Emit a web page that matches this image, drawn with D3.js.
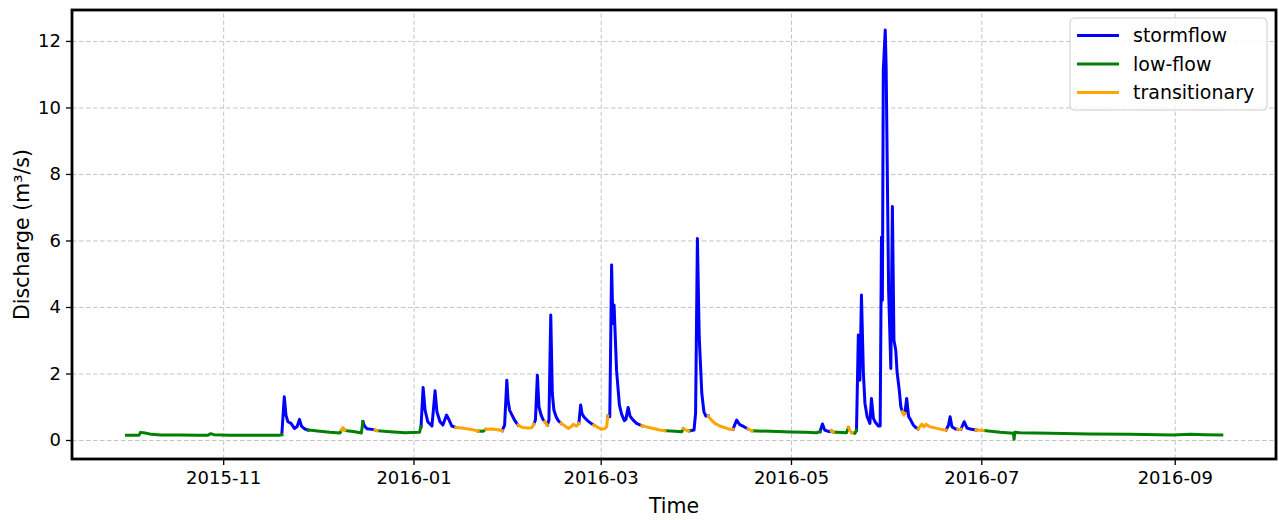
<!DOCTYPE html>
<html><head><meta charset="utf-8">
<script src="https://cdn.jsdelivr.net/npm/d3@7"></script>
<style>body{margin:0;background:#fff}svg{display:block}text{font-family:"DejaVu Sans",sans-serif;fill:#000}</style>
</head><body><svg id="chart" width="1279" height="520"></svg>
<script>
// ---- data ----
const times = [
"2015-10-01T00","2015-10-05T00","2015-10-05T12","2015-10-07T00","2015-10-09T00","2015-10-12T00","2015-10-18T00","2015-10-24T00","2015-10-27T00","2015-10-28T00",
"2015-10-29T00","2015-11-03T00","2015-11-10T00","2015-11-15T00","2015-11-19T00","2015-11-19T19","2015-11-20T14","2015-11-21T03","2015-11-21T18","2015-11-22T18",
"2015-11-23T20","2015-11-24T16","2015-11-25T11","2015-11-26T02","2015-11-27T05","2015-11-28T05","2015-12-02T00","2015-12-05T05","2015-12-08T10","2015-12-08T22",
"2015-12-09T10","2015-12-10T00","2015-12-10T17","2015-12-13T05","2015-12-15T07","2015-12-15T19","2015-12-16T07","2015-12-17T02","2015-12-18T17","2015-12-19T17",
"2015-12-20T07","2015-12-24T12","2015-12-29T07","2016-01-02T22","2016-01-03T10","2016-01-04T02","2016-01-04T17","2016-01-05T14","2016-01-06T22","2016-01-07T22",
"2016-01-08T12","2016-01-09T12","2016-01-10T10","2016-01-11T14","2016-01-12T10","2016-01-13T07","2016-01-14T14","2016-01-16T12","2016-01-18T12","2016-01-20T10",
"2016-01-21T17","2016-01-23T07","2016-01-24T05","2016-01-26T05","2016-01-28T02","2016-01-29T10","2016-01-30T05","2016-01-30T22","2016-01-31T07","2016-01-31T19",
"2016-02-01T14","2016-02-02T12","2016-02-03T12","2016-02-04T19","2016-02-06T17","2016-02-07T22","2016-02-08T14","2016-02-09T02","2016-02-09T17","2016-02-10T05",
"2016-02-10T22","2016-02-11T12","2016-02-12T02","2016-02-12T22","2016-02-13T10","2016-02-14T00","2016-02-14T12","2016-02-15T00","2016-02-15T17","2016-02-16T10",
"2016-02-17T07","2016-02-18T14","2016-02-19T14","2016-02-20T12","2016-02-21T05","2016-02-22T07","2016-02-23T00","2016-02-23T14","2016-02-24T00","2016-02-24T14",
"2016-02-25T14","2016-02-26T14","2016-02-27T19","2016-02-29T02","2016-03-01T07","2016-03-02T10","2016-03-02T22","2016-03-03T07","2016-03-03T22","2016-03-04T12",
"2016-03-04T22","2016-03-05T07","2016-03-06T02","2016-03-07T00","2016-03-07T17","2016-03-08T14","2016-03-09T02","2016-03-09T19","2016-03-10T10","2016-03-11T10",
"2016-03-12T12","2016-03-14T05","2016-03-16T19","2016-03-20T00","2016-03-21T14","2016-03-24T19","2016-03-27T00","2016-03-27T12","2016-03-28T07","2016-03-29T02",
"2016-03-29T14","2016-03-30T22","2016-03-31T10","2016-04-01T00","2016-04-01T14","2016-04-02T10","2016-04-03T02","2016-04-03T17","2016-04-04T12","2016-04-05T07",
"2016-04-06T14","2016-04-08T05","2016-04-11T10","2016-04-12T10","2016-04-13T14","2016-04-14T14","2016-04-15T22","2016-04-17T05","2016-04-18T12","2016-04-24T07",
"2016-05-01T00","2016-05-05T12","2016-05-09T05","2016-05-10T07","2016-05-11T02","2016-05-11T19","2016-05-13T05","2016-05-13T22","2016-05-14T12","2016-05-18T19",
"2016-05-19T10","2016-05-19T22","2016-05-20T12","2016-05-21T12","2016-05-22T00","2016-05-22T14","2016-05-23T02","2016-05-23T14","2016-05-24T05","2016-05-24T17",
"2016-05-25T10","2016-05-26T07","2016-05-26T19","2016-05-27T10","2016-05-27T22","2016-05-29T00","2016-05-29T14","2016-05-30T00","2016-05-30T07","2016-05-30T14",
"2016-05-31T05","2016-05-31T12","2016-06-01T07","2016-06-02T00","2016-06-02T12","2016-06-03T00","2016-06-03T14","2016-06-04T00","2016-06-04T17","2016-06-05T05",
"2016-06-05T17","2016-06-06T05","2016-06-06T12","2016-06-07T02","2016-06-07T17","2016-06-08T02","2016-06-09T05","2016-06-09T17","2016-06-10T17","2016-06-11T22",
"2016-06-12T14","2016-06-13T07","2016-06-14T12","2016-06-16T17","2016-06-18T17","2016-06-19T17","2016-06-20T12","2016-06-21T00","2016-06-21T14","2016-06-22T14",
"2016-06-23T12","2016-06-24T12","2016-06-25T12","2016-06-26T10","2016-06-27T10","2016-06-29T07","2016-07-01T14","2016-07-07T00","2016-07-11T07","2016-07-11T12",
"2016-07-11T17","2016-07-13T10","2016-07-23T00","2016-08-04T19","2016-08-17T14","2016-08-31T10","2016-09-05T22","2016-09-10T17","2016-09-16T02"
];
const discharge = [
0.14,0.14,0.23,0.21,0.17,0.15,0.15,0.14,0.14,0.19,
0.16,0.14,0.14,0.14,0.14,0.16,1.30,0.75,0.55,0.50,
0.35,0.40,0.62,0.42,0.33,0.30,0.26,0.23,0.21,0.30,
0.37,0.30,0.28,0.25,0.21,0.55,0.42,0.34,0.32,0.30,
0.28,0.25,0.22,0.23,0.40,1.58,0.90,0.55,0.42,1.48,
0.85,0.55,0.45,0.75,0.60,0.42,0.38,0.36,0.33,0.30,
0.27,0.26,0.32,0.33,0.31,0.28,0.45,1.80,1.20,0.90,
0.75,0.58,0.45,0.38,0.36,0.37,0.48,0.60,1.95,1.00,
0.75,0.62,0.55,0.45,0.60,3.76,1.40,0.90,0.70,0.58,
0.50,0.42,0.35,0.40,0.47,0.42,0.50,1.05,0.80,0.70,
0.60,0.52,0.45,0.38,0.32,0.35,0.40,0.72,0.70,5.26,
3.50,4.06,2.10,1.05,0.78,0.58,0.62,0.98,0.72,0.60,
0.50,0.43,0.37,0.30,0.28,0.26,0.25,0.34,0.30,0.28,
0.28,0.30,0.80,6.06,3.10,1.40,0.85,0.72,0.72,0.62,
0.50,0.42,0.32,0.32,0.60,0.46,0.40,0.33,0.28,0.26,
0.24,0.23,0.22,0.25,0.48,0.30,0.25,0.28,0.24,0.22,
0.38,0.28,0.22,0.20,0.30,3.16,1.80,4.36,2.00,1.10,
0.70,0.50,1.25,0.65,0.55,0.42,0.42,6.10,4.20,11.10,
12.33,11.20,4.50,2.15,7.02,3.00,2.70,2.05,1.50,1.00,
0.85,0.75,0.80,1.25,0.70,0.65,0.45,0.40,0.33,0.48,
0.40,0.47,0.40,0.35,0.31,0.30,0.45,0.70,0.40,0.34,
0.32,0.33,0.55,0.36,0.33,0.30,0.29,0.23,0.20,0.02,
0.23,0.22,0.20,0.18,0.17,0.15,0.17,0.16,0.15
];
const regime = (
"LLLLLLLLLL"+"LLLLLSSSSS"+"SSSSSLLLLT"+"TLLLLSSSST"+"LLLLSSSSSS"+
"SSSSSSTTTT"+"LLTTTSSSSS"+"SSTTTTSSSS"+"SSTSSSSSSS"+"TTTTTTSSSS"+
"SSTTTTTSSS"+"SSSSSSSSSS"+"STTTLLLTTL"+"SSSSSSSSTT"+"TTTSSSSTLL"+
"LLLSSSSTLL"+"TTLLSSSSSS"+"SSSSSSSSSS"+"SSSSSSSSSS"+"TTSSSSSSTT"+
"TTTTTSSSSS"+"TSSSSTLLLL"+"LLLLLLLLL").split("");
const regimeCodes = ["S","L","T"];
const regimeNames = ["stormflow","low-flow","transitionary"];
const regimeColors = ["#0000ff","#008000","#ffa500"];
const yTicks = [0,2,4,6,8,10,12];
const xTicks = ["2015-11-01","2016-01-01","2016-03-01","2016-05-01","2016-07-01","2016-09-01"];
const xDomain = ["2015-09-13T13","2016-10-03T11"];
const yDomain = [-0.571, 12.93];

// ---- drawing ----
const parseT = d3.utcParse("%Y-%m-%dT%H");
const parseD = d3.utcParse("%Y-%m-%d");
const L = 72, R = 1276, T = 10, B = 459;
const svg = d3.select("#chart");
const x = d3.scaleUtc().domain(xDomain.map(parseT)).range([L, R]);
const y = d3.scaleLinear().domain(yDomain).range([B, T]);
const pts = times.map((t, i) => ({t: parseT(t), v: discharge[i], r: regime[i]}));

// grid
const gridStyle = g => g.selectAll("line").attr("stroke", "#c4c4c4").attr("stroke-width", 1).attr("stroke-dasharray", "4.5,2.5");
svg.append("g").attr("transform", `translate(0,${B})`)
  .call(d3.axisBottom(x).tickValues(xTicks.map(parseD)).tickSize(-(B - T)).tickFormat(""))
  .call(g => g.select(".domain").remove()).call(gridStyle);
svg.append("g").attr("transform", `translate(${L},0)`)
  .call(d3.axisLeft(y).tickValues(yTicks).tickSize(-(R - L)).tickFormat(""))
  .call(g => g.select(".domain").remove()).call(gridStyle);

// series runs
const line = d3.line().x(d => x(d.t)).y(d => y(d.v));
const runs = [];
let start = 0;
for (let i = 1; i <= pts.length; i++) {
  if (i === pts.length || pts[i].r !== pts[start].r) {
    runs.push({r: pts[start].r, p: pts.slice(start, Math.min(i + 1, pts.length))});
    start = i;
  }
}
const plot = svg.append("g");
regimeCodes.forEach((code, k) => {
  runs.filter(rn => rn.r === code).forEach(rn => {
    plot.append("path").attr("d", line(rn.p)).attr("fill", "none")
      .attr("stroke", regimeColors[k]).attr("stroke-width", 3)
      .attr("stroke-linejoin", "round").attr("stroke-linecap", "square");
  });
});

// axes ticks + labels
const xa = svg.append("g").attr("transform", `translate(0,${B})`)
  .call(d3.axisBottom(x).tickValues(xTicks.map(parseD)).tickSize(6).tickPadding(6).tickFormat(d3.utcFormat("%Y-%m")));
const ya = svg.append("g").attr("transform", `translate(${L},0)`)
  .call(d3.axisLeft(y).tickValues(yTicks).tickSize(6).tickPadding(5).tickFormat(d3.format("d")));
[xa, ya].forEach(a => {
  a.select(".domain").remove();
  a.selectAll("line").attr("stroke", "#000").attr("stroke-width", 1.3);
  a.selectAll("text").attr("font-size", 18).attr("font-family", '"DejaVu Sans"').attr("fill", "#000");
});

// frame
svg.append("rect").attr("x", L).attr("y", T).attr("width", R - L).attr("height", B - T)
  .attr("fill", "none").attr("stroke", "#000").attr("stroke-width", 2.8);

// axis titles
svg.append("text").attr("x", (L + R) / 2).attr("y", 513).attr("text-anchor", "middle")
  .attr("font-size", 20.5).text("Time");
svg.append("text").attr("transform", `translate(29,${(T + B) / 2}) rotate(-90)`).attr("text-anchor", "middle")
  .attr("font-size", 20.5).text("Discharge (m³/s)");

// legend
const lg = svg.append("g").attr("transform", "translate(1070,18)");
lg.append("rect").attr("width", 197).attr("height", 92).attr("rx", 4)
  .attr("fill", "#fff").attr("fill-opacity", 0.8).attr("stroke", "#cccccc").attr("stroke-width", 1);
regimeNames.forEach((n, k) => {
  const yy = 17.5 + k * 28.5;
  lg.append("line").attr("x1", 7).attr("x2", 49).attr("y1", yy).attr("y2", yy)
    .attr("stroke", regimeColors[k]).attr("stroke-width", 3);
  lg.append("text").attr("x", 63).attr("y", yy).attr("dy", "0.35em").attr("font-size", 19).text(n);
});
</script></body></html>
